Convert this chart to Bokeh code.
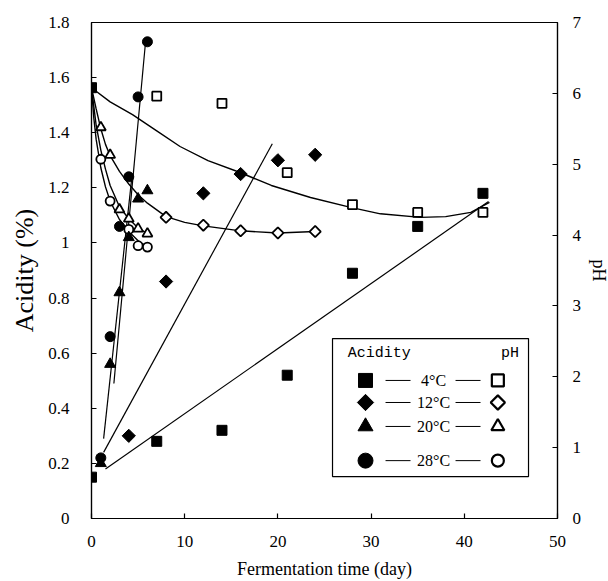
import math
from bokeh.plotting import figure
from bokeh.models import Range1d, LinearAxis, FixedTicker
from bokeh.core.properties import value
from bokeh.embed import file_html
from bokeh.resources import INLINE

# ---------------- data ----------------
x_ticks = [0, 10, 20, 30, 40, 50]
x_tick_labels = ["0", "10", "20", "30", "40", "50"]
acid_ticks = [0, 0.2, 0.4, 0.6, 0.8, 1.0, 1.2, 1.4, 1.6, 1.8]
acid_tick_labels = ["0", "0.2", "0.4", "0.6", "0.8", "1", "1.2", "1.4", "1.6", "1.8"]
ph_ticks = [0, 1, 2, 3, 4, 5, 6, 7]
ph_tick_labels = ["0", "1", "2", "3", "4", "5", "6", "7"]

# initial point shared by all temperatures
init_day = [0]
init_ph = [6.08]

# acidity (%) - filled markers
acid4_day = [0, 7, 14, 21, 28, 35, 42]
acid4 = [0.15, 0.28, 0.32, 0.52, 0.89, 1.06, 1.18]
acid12_day = [4, 8, 12, 16, 20, 24]
acid12 = [0.30, 0.86, 1.18, 1.25, 1.30, 1.32]
acid20_day = [1, 2, 3, 4, 5, 6]
acid20 = [0.20, 0.56, 0.82, 1.02, 1.16, 1.19]
acid28_day = [1, 2, 3, 4, 5, 6]
acid28 = [0.22, 0.66, 1.06, 1.24, 1.53, 1.73]

# pH - open markers
ph4_day = [7, 14, 21, 28, 35, 42]
ph4 = [5.96, 5.86, 4.88, 4.43, 4.32, 4.32]
ph12_day = [8, 12, 16, 20, 24]
ph12 = [4.25, 4.14, 4.06, 4.03, 4.05]
ph20_day = [1, 2, 3, 4, 5, 6]
ph20 = [5.52, 5.13, 4.36, 4.23, 4.09, 4.02]
ph28_day = [1, 2, 4, 5, 6]
ph28 = [5.07, 4.48, 4.08, 3.85, 3.83]

# straight trend lines of acidity (end points)
fit4_day = [1.5, 42.6]
fit4 = [0.18, 1.15]
fit12_day = [1.3, 19.4]
fit12 = [0.24, 1.36]
fit20_day = [1.3, 4.3]
fit20 = [0.29, 1.23]
fit28_day = [2.4, 5.8]
fit28 = [0.49, 1.73]

# pH trend curves
cur4_day = [0, 2, 4.4, 7, 9.5, 12.5, 15.8, 19.3, 23.5, 27.8, 31, 35.3, 38, 40.7, 42.7]
cur4 = [6.08, 5.88, 5.70, 5.47, 5.25, 5.05, 4.89, 4.70, 4.53, 4.39, 4.30, 4.25, 4.26, 4.32, 4.46]
cur12_day = [0, 0.5, 1, 1.5, 2, 3, 4, 5, 6, 8, 10, 12, 16, 20, 24]
cur12 = [6.08, 5.78, 5.50, 5.28, 5.12, 4.90, 4.72, 4.57, 4.45, 4.26, 4.18, 4.13, 4.06, 4.03, 4.05]
cur20_day = [0, 0.5, 1, 1.5, 2, 3, 4, 5, 6]
cur20 = [6.08, 5.55, 5.20, 4.93, 4.70, 4.40, 4.23, 4.10, 4.02]
cur28_day = [0, 0.25, 0.5, 1, 1.5, 2, 3, 4, 5, 6]
cur28 = [6.08, 5.65, 5.35, 4.95, 4.68, 4.48, 4.22, 4.05, 3.92, 3.83]

legend_temps = ["4°C", "12°C", "20°C", "28°C"]
legend_markers = ["square", "diamond", "triangle", "circle"]

# ---------------- figure ----------------
SERIF = "Liberation Serif"
p = figure(frame_width=466, frame_height=496, x_range=Range1d(0, 50), y_range=Range1d(0, 1.8),
           output_backend="svg", toolbar_location=None,
           min_border_left=91, min_border_right=5, min_border_top=22, min_border_bottom=5)
p.extra_y_ranges = {"ph": Range1d(0, 7)}
p.grid.visible = False
p.outline_line_color = "black"
p.outline_line_width = 1.2
p.background_fill_color = "white"
p.border_fill_color = "white"

xa = p.xaxis[0]
xa.ticker = FixedTicker(ticks=x_ticks)
xa.major_label_overrides = dict(zip(x_ticks, x_tick_labels))
xa.axis_label = "Fermentation time (day)"
ya = p.yaxis[0]
ya.ticker = FixedTicker(ticks=acid_ticks)
ya.major_label_overrides = dict(zip(acid_ticks, acid_tick_labels))
ya.axis_label = "Acidity (%)"

ra = LinearAxis(y_range_name="ph", ticker=FixedTicker(ticks=ph_ticks))
ra.major_label_overrides = dict(zip(ph_ticks, ph_tick_labels))
ra.axis_label = "pH"
p.add_layout(ra, "right")

for ax in (xa, ya, ra):
    ax.major_tick_in = 5
    ax.major_tick_out = 0
    ax.minor_tick_line_color = None
    ax.axis_line_width = 1.2
    ax.major_tick_line_width = 1.2
    ax.major_label_text_font = SERIF
    ax.major_label_text_font_size = "17px"
    ax.major_label_text_color = "black"
    ax.axis_label_text_font = SERIF
    ax.axis_label_text_font_style = "normal"
    ax.axis_label_text_color = "black"
xa.major_label_standoff = 17
ya.major_label_standoff = 22
ra.major_label_standoff = 15
xa.axis_label_text_font_size = "18px"
xa.axis_label_standoff = 9
ya.axis_label_text_font_size = "26px"
ya.axis_label_standoff = 6
ra.axis_label_text_font_size = "18px"
ra.axis_label_standoff = 5

# ---------------- lines ----------------
LW = 1.4
for d, v in ((cur4_day, cur4), (cur12_day, cur12), (cur20_day, cur20), (cur28_day, cur28)):
    p.line(d, v, y_range_name="ph", line_color="black", line_width=LW)
for d, v in ((fit4_day, fit4), (fit12_day, fit12), (fit20_day, fit20), (fit28_day, fit28)):
    p.line(d, v, line_color="black", line_width=1.2)

# ---------------- markers ----------------
DIAMOND_ANGLE = math.pi / 4

def marker_args(marker, size):
    if marker == "diamond":
        return dict(marker="square", angle=DIAMOND_ANGLE, size=size * 0.72)
    return dict(marker=marker, size=size)

def filled(d, v, marker, size, **kw):
    p.scatter(d, v, fill_color="black", line_color="black", **marker_args(marker, size), **kw)

def hollow(d, v, marker, size):
    p.scatter(d, v, fill_color="white", line_color="black", line_width=1.8,
              y_range_name="ph", **marker_args(marker, size))

hollow(ph4_day, ph4, "square", 9)
hollow(ph12_day, ph12, "diamond", 11)
hollow(ph20_day, ph20, "triangle", 10)
hollow(ph28_day, ph28, "circle", 9)
filled(acid12_day, acid12, "diamond", 13)
filled(acid20_day, acid20, "triangle", 11)
filled(acid28_day, acid28, "circle", 10)
filled(acid4_day, acid4, "square", 10)
filled(init_day, init_ph, "square", 10, y_range_name="ph")

# ---------------- legend box (drawn in acidity coordinates) ----------------
p.quad(left=[25.86], right=[46.89], bottom=[0.152], top=[0.653],
       fill_color="white", line_color="black", line_width=1.2)
p.text(x=[27.5], y=[0.599], text=["Acidity"], text_font=value("Liberation Mono"),
       text_font_size="15px", text_baseline="middle", text_align="left", text_color="black")
p.text(x=[44.9], y=[0.599], text=["pH"], text_font=value("Liberation Mono"),
       text_font_size="15px", text_baseline="middle", text_align="center", text_color="black")
rows_y = [0.501, 0.421, 0.334, 0.210]
sizes_f = [14, 16, 15, 15]
sizes_o = [12, 14, 13, 12]
for ry, t, m, sf, so in zip(rows_y, legend_temps, legend_markers, sizes_f, sizes_o):
    p.scatter([29.4], [ry], fill_color="black", line_color="black", **marker_args(m, sf))
    p.scatter([43.6], [ry], fill_color="white", line_color="black", line_width=2.2,
              **marker_args(m, so))
    p.line([31.55, 34.23], [ry, ry], line_color="black", line_width=1)
    p.line([39.06, 41.74], [ry, ry], line_color="black", line_width=1)
    p.text(x=[36.7], y=[ry], text=[t], text_font=value(SERIF), text_font_size="16px",
           text_baseline="middle", text_align="center", text_color="black")

open("out.html", "w").write(file_html(p, INLINE))
